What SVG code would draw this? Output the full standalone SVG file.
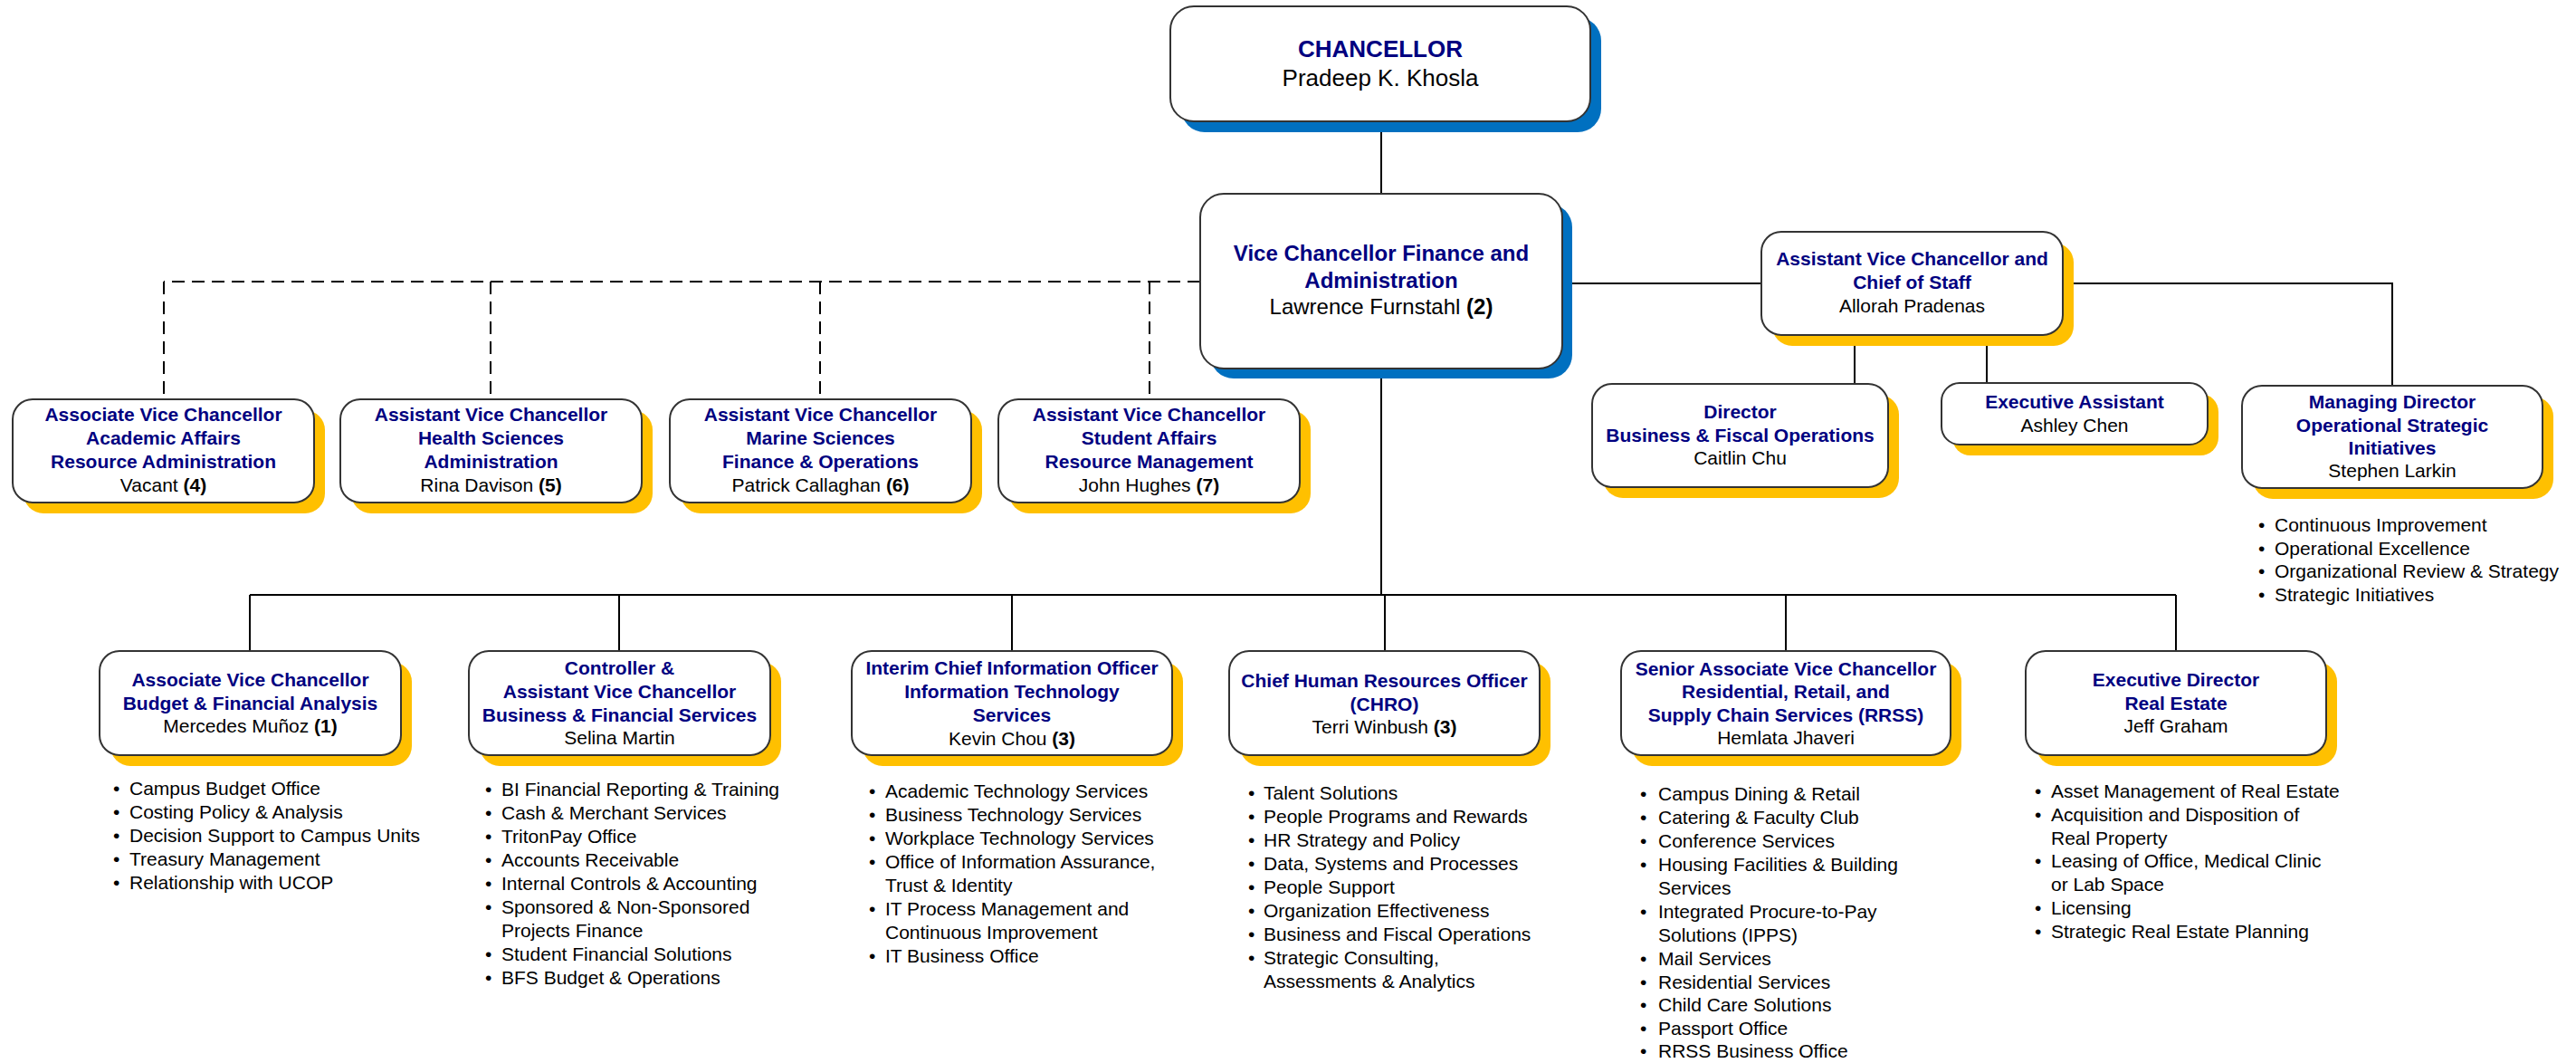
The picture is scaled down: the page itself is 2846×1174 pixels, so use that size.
<svg xmlns="http://www.w3.org/2000/svg" width="2846" height="1174" viewBox="0 0 2846 1174">
<style>
.bg{fill:#fff}
.box{fill:#fff;stroke:#333;stroke-width:2}
.sb{fill:#0070C0}
.sy{fill:#FFC000}
text{font-family:"Liberation Sans",Arial,sans-serif;font-size:21px;fill:#000}
.c{text-anchor:middle}
.ti{fill:#000080;font-weight:bold}
.b{font-weight:bold}
.ln{stroke:#000;stroke-width:2;fill:none}
.dl{stroke:#000;stroke-width:2;fill:none;stroke-dasharray:14 8}
</style>
<rect class="bg" x="0" y="0" width="2846" height="1174"/>
<g id="connectors">
<path class="ln" d="M1526 134V214"/>
<path class="ln" d="M1526 407V657M276 657H2404M276 657V719M684 657V719M1118 657V719M1530 657V719M1973 657V719M2404 657V719"/>
<path class="dl" d="M1326 311H181M181 311V441M542 311V441M906 311V441M1270 311V441"/>
<path class="ln" d="M1726 313H1946M2279 313H2643V426M2049 370V424M2195 370V423"/>
</g>
<g id="chancellor">
<rect class="sb" x="1305" y="19" width="464" height="127" rx="26"/>
<rect class="box" x="1293" y="7" width="464" height="127" rx="26"/>
<text class="c ti" x="1525" y="63" style="font-size:26px">CHANCELLOR</text>
<text class="c" x="1525" y="95" style="font-size:26px">Pradeep K. Khosla</text>
</g>
<g id="vcfa">
<rect class="sb" x="1337" y="225" width="400" height="193" rx="26"/>
<rect class="box" x="1326" y="214" width="400" height="193" rx="26"/>
<text class="c ti" x="1526" y="288" style="font-size:24px">Vice Chancellor Finance and</text>
<text class="c ti" x="1526" y="318" style="font-size:24px">Administration</text>
<text class="c" x="1526" y="347" style="font-size:24px">Lawrence Furnstahl <tspan class="b">(2)</tspan></text>
</g>
<g id="avc-academic">
<rect class="sy" x="26" y="453" width="333" height="114" rx="22"/>
<rect class="box" x="14" y="441" width="333" height="114" rx="22"/>
<text class="c ti" x="180.5" y="465">Associate Vice Chancellor</text>
<text class="c ti" x="180.5" y="491">Academic Affairs</text>
<text class="c ti" x="180.5" y="517">Resource Administration</text>
<text class="c" x="180.5" y="543">Vacant <tspan class="b">(4)</tspan></text>
</g>
<g id="avc-health">
<rect class="sy" x="388" y="453" width="333" height="114" rx="22"/>
<rect class="box" x="376" y="441" width="333" height="114" rx="22"/>
<text class="c ti" x="542.5" y="465">Assistant Vice Chancellor</text>
<text class="c ti" x="542.5" y="491">Health Sciences</text>
<text class="c ti" x="542.5" y="517">Administration</text>
<text class="c" x="542.5" y="543">Rina Davison <tspan class="b">(5)</tspan></text>
</g>
<g id="avc-marine">
<rect class="sy" x="752" y="453" width="333" height="114" rx="22"/>
<rect class="box" x="740" y="441" width="333" height="114" rx="22"/>
<text class="c ti" x="906.5" y="465">Assistant Vice Chancellor</text>
<text class="c ti" x="906.5" y="491">Marine Sciences</text>
<text class="c ti" x="906.5" y="517">Finance &amp; Operations</text>
<text class="c" x="906.5" y="543">Patrick Callaghan <tspan class="b">(6)</tspan></text>
</g>
<g id="avc-student">
<rect class="sy" x="1115" y="453" width="333" height="114" rx="22"/>
<rect class="box" x="1103" y="441" width="333" height="114" rx="22"/>
<text class="c ti" x="1269.5" y="465">Assistant Vice Chancellor</text>
<text class="c ti" x="1269.5" y="491">Student Affairs</text>
<text class="c ti" x="1269.5" y="517">Resource Management</text>
<text class="c" x="1269.5" y="543">John Hughes <tspan class="b">(7)</tspan></text>
</g>
<g id="chief-of-staff">
<rect class="sy" x="1958" y="268" width="333" height="114" rx="22"/>
<rect class="box" x="1946" y="256" width="333" height="114" rx="22"/>
<text class="c ti" x="2112.5" y="293">Assistant Vice Chancellor and</text>
<text class="c ti" x="2112.5" y="319">Chief of Staff</text>
<text class="c" x="2112.5" y="345">Allorah Pradenas</text>
</g>
<g id="director-bfo">
<rect class="sy" x="1771" y="436" width="327" height="114" rx="22"/>
<rect class="box" x="1759" y="424" width="327" height="114" rx="22"/>
<text class="c ti" x="1922.5" y="462">Director</text>
<text class="c ti" x="1922.5" y="488">Business &amp; Fiscal Operations</text>
<text class="c" x="1922.5" y="513">Caitlin Chu</text>
</g>
<g id="exec-assistant">
<rect class="sy" x="2157" y="435" width="294" height="68" rx="20"/>
<rect class="box" x="2145" y="423" width="294" height="68" rx="20"/>
<text class="c ti" x="2292" y="451">Executive Assistant</text>
<text class="c" x="2292" y="477">Ashley Chen</text>
</g>
<g id="managing-director">
<rect class="sy" x="2489" y="438" width="332" height="113" rx="22"/>
<rect class="box" x="2477" y="426" width="332" height="113" rx="22"/>
<text class="c ti" x="2643" y="451">Managing Director</text>
<text class="c ti" x="2643" y="477">Operational Strategic</text>
<text class="c ti" x="2643" y="502">Initiatives</text>
<text class="c" x="2643" y="527">Stephen Larkin</text>
<text x="2495" y="587">•</text><text x="2513" y="587">Continuous Improvement</text>
<text x="2495" y="613">•</text><text x="2513" y="613">Operational Excellence</text>
<text x="2495" y="638">•</text><text x="2513" y="638">Organizational Review &amp; Strategy</text>
<text x="2495" y="664">•</text><text x="2513" y="664">Strategic Initiatives</text>
</g>
<g id="avc-budget">
<rect class="sy" x="122" y="731" width="333" height="115" rx="22"/>
<rect class="box" x="110" y="719" width="333" height="115" rx="22"/>
<text class="c ti" x="276.5" y="758">Associate Vice Chancellor</text>
<text class="c ti" x="276.5" y="784">Budget &amp; Financial Analysis</text>
<text class="c" x="276.5" y="809">Mercedes Muñoz <tspan class="b">(1)</tspan></text>
<text x="125" y="878">•</text><text x="143" y="878">Campus Budget Office</text>
<text x="125" y="904">•</text><text x="143" y="904">Costing Policy &amp; Analysis</text>
<text x="125" y="930">•</text><text x="143" y="930">Decision Support to Campus Units</text>
<text x="125" y="956">•</text><text x="143" y="956">Treasury Management</text>
<text x="125" y="982">•</text><text x="143" y="982">Relationship with UCOP</text>
</g>
<g id="controller">
<rect class="sy" x="530" y="731" width="333" height="115" rx="22"/>
<rect class="box" x="518" y="719" width="333" height="115" rx="22"/>
<text class="c ti" x="684.5" y="745">Controller &amp;</text>
<text class="c ti" x="684.5" y="771">Assistant Vice Chancellor</text>
<text class="c ti" x="684.5" y="797">Business &amp; Financial Services</text>
<text class="c" x="684.5" y="822">Selina Martin</text>
<text x="536" y="879">•</text><text x="554" y="879">BI Financial Reporting &amp; Training</text>
<text x="536" y="905">•</text><text x="554" y="905">Cash &amp; Merchant Services</text>
<text x="536" y="931">•</text><text x="554" y="931">TritonPay Office</text>
<text x="536" y="957">•</text><text x="554" y="957">Accounts Receivable</text>
<text x="536" y="983">•</text><text x="554" y="983">Internal Controls &amp; Accounting</text>
<text x="536" y="1009">•</text><text x="554" y="1009">Sponsored &amp; Non-Sponsored</text>
<text x="554" y="1035">Projects Finance</text>
<text x="536" y="1061">•</text><text x="554" y="1061">Student Financial Solutions</text>
<text x="536" y="1087">•</text><text x="554" y="1087">BFS Budget &amp; Operations</text>
</g>
<g id="cio">
<rect class="sy" x="953" y="731" width="354" height="115" rx="22"/>
<rect class="box" x="941" y="719" width="354" height="115" rx="22"/>
<text class="c ti" x="1118" y="745">Interim Chief Information Officer</text>
<text class="c ti" x="1118" y="771">Information Technology</text>
<text class="c ti" x="1118" y="797">Services</text>
<text class="c" x="1118" y="823">Kevin Chou <tspan class="b">(3)</tspan></text>
<text x="960" y="881">•</text><text x="978" y="881">Academic Technology Services</text>
<text x="960" y="907">•</text><text x="978" y="907">Business Technology Services</text>
<text x="960" y="933">•</text><text x="978" y="933">Workplace Technology Services</text>
<text x="960" y="959">•</text><text x="978" y="959">Office of Information Assurance,</text>
<text x="978" y="985">Trust &amp; Identity</text>
<text x="960" y="1011">•</text><text x="978" y="1011">IT Process Management and</text>
<text x="978" y="1037">Continuous Improvement</text>
<text x="960" y="1063">•</text><text x="978" y="1063">IT Business Office</text>
</g>
<g id="chro">
<rect class="sy" x="1370" y="731" width="343" height="115" rx="22"/>
<rect class="box" x="1358" y="719" width="343" height="115" rx="22"/>
<text class="c ti" x="1529.5" y="759">Chief Human Resources Officer</text>
<text class="c ti" x="1529.5" y="785">(CHRO)</text>
<text class="c" x="1529.5" y="810">Terri Winbush <tspan class="b">(3)</tspan></text>
<text x="1379" y="883">•</text><text x="1396" y="883">Talent Solutions</text>
<text x="1379" y="909">•</text><text x="1396" y="909">People Programs and Rewards</text>
<text x="1379" y="935">•</text><text x="1396" y="935">HR Strategy and Policy</text>
<text x="1379" y="961">•</text><text x="1396" y="961">Data, Systems and Processes</text>
<text x="1379" y="987">•</text><text x="1396" y="987">People Support</text>
<text x="1379" y="1013">•</text><text x="1396" y="1013">Organization Effectiveness</text>
<text x="1379" y="1039">•</text><text x="1396" y="1039">Business and Fiscal Operations</text>
<text x="1379" y="1065">•</text><text x="1396" y="1065">Strategic Consulting,</text>
<text x="1396" y="1091">Assessments &amp; Analytics</text>
</g>
<g id="rrss">
<rect class="sy" x="1803" y="731" width="364" height="115" rx="22"/>
<rect class="box" x="1791" y="719" width="364" height="115" rx="22"/>
<text class="c ti" x="1973" y="746">Senior Associate Vice Chancellor</text>
<text class="c ti" x="1973" y="771">Residential, Retail, and</text>
<text class="c ti" x="1973" y="797">Supply Chain Services (RRSS)</text>
<text class="c" x="1973" y="822">Hemlata Jhaveri</text>
<text x="1812" y="884">•</text><text x="1832" y="884">Campus Dining &amp; Retail</text>
<text x="1812" y="910">•</text><text x="1832" y="910">Catering &amp; Faculty Club</text>
<text x="1812" y="936">•</text><text x="1832" y="936">Conference Services</text>
<text x="1812" y="962">•</text><text x="1832" y="962">Housing Facilities &amp; Building</text>
<text x="1832" y="988">Services</text>
<text x="1812" y="1014">•</text><text x="1832" y="1014">Integrated Procure-to-Pay</text>
<text x="1832" y="1040">Solutions (IPPS)</text>
<text x="1812" y="1066">•</text><text x="1832" y="1066">Mail Services</text>
<text x="1812" y="1092">•</text><text x="1832" y="1092">Residential Services</text>
<text x="1812" y="1117">•</text><text x="1832" y="1117">Child Care Solutions</text>
<text x="1812" y="1143">•</text><text x="1832" y="1143">Passport Office</text>
<text x="1812" y="1168">•</text><text x="1832" y="1168">RRSS Business Office</text>
</g>
<g id="real-estate">
<rect class="sy" x="2250" y="731" width="332" height="115" rx="22"/>
<rect class="box" x="2238" y="719" width="332" height="115" rx="22"/>
<text class="c ti" x="2404" y="758">Executive Director</text>
<text class="c ti" x="2404" y="784">Real Estate</text>
<text class="c" x="2404" y="809">Jeff Graham</text>
<text x="2248" y="881">•</text><text x="2266" y="881">Asset Management of Real Estate</text>
<text x="2248" y="907">•</text><text x="2266" y="907">Acquisition and Disposition of</text>
<text x="2266" y="933">Real Property</text>
<text x="2248" y="958">•</text><text x="2266" y="958">Leasing of Office, Medical Clinic</text>
<text x="2266" y="984">or Lab Space</text>
<text x="2248" y="1010">•</text><text x="2266" y="1010">Licensing</text>
<text x="2248" y="1036">•</text><text x="2266" y="1036">Strategic Real Estate Planning</text>
</g>
</svg>
